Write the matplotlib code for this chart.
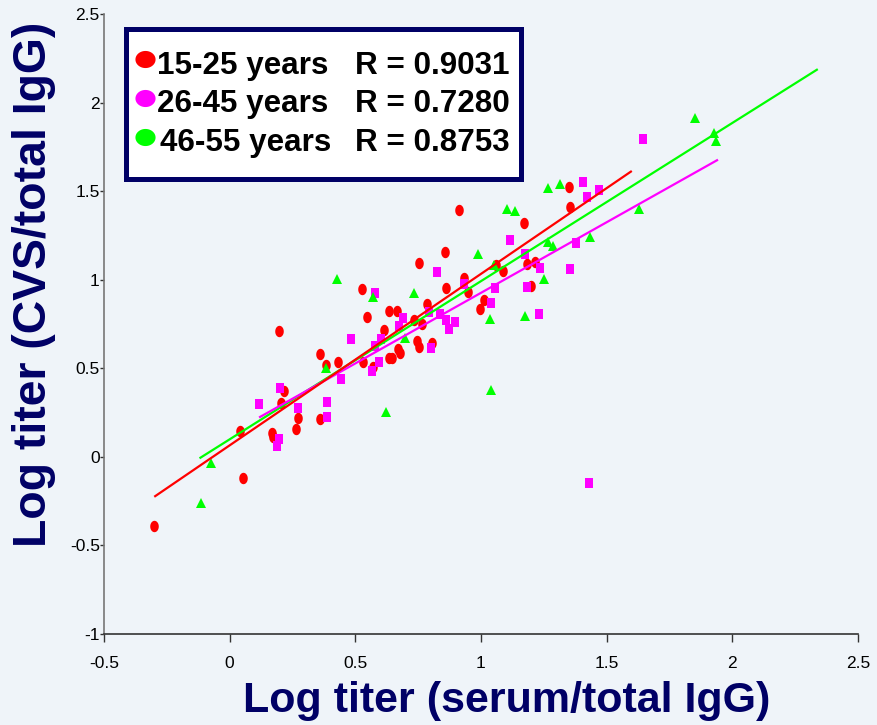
import numpy as np
import matplotlib
matplotlib.use("Agg")
import matplotlib.pyplot as plt
from matplotlib.path import Path
from matplotlib.patches import Rectangle
from matplotlib.lines import Line2D

plt.rcParams['font.family'] = ['Liberation Sans', 'DejaVu Sans']

# ---------------- data ----------------
groups = ["15-25 years", "26-45 years", "46-55 years"]
r_values = ["R = 0.9031", "R = 0.7280", "R = 0.8753"]

red_x = [-0.301, 0.053, 0.041, 0.168, 0.172, 0.196, 0.359, 0.383, 0.216, 0.204,
         0.272, 0.264, 0.359, 0.431, 0.527, 0.546, 0.634, 0.666, 0.614, 0.531,
         0.634, 0.646, 0.670, 0.678, 0.745, 0.753, 0.805, 0.785, 0.733, 0.765,
         0.753, 0.861, 0.932, 0.948, 0.996, 1.012, 0.570, 0.912, 0.857, 1.171,
         1.060, 1.088, 1.183, 1.215, 1.199, 1.350, 1.354]
red_y = [-0.390, -0.119, 0.146, 0.135, 0.112, 0.711, 0.581, 0.519, 0.372, 0.304,
         0.220, 0.158, 0.214, 0.536, 0.948, 0.790, 0.824, 0.824, 0.716, 0.536,
         0.558, 0.558, 0.609, 0.587, 0.654, 0.620, 0.643, 0.863, 0.773, 0.750,
         1.095, 0.953, 1.010, 0.931, 0.835, 0.886, 0.508, 1.394, 1.157, 1.320,
         1.083, 1.049, 1.089, 1.100, 0.965, 1.524, 1.411]

mag_x = [0.200, 0.117, 0.272, 0.196, 0.188, 0.387, 0.387, 0.825, 0.932, 0.578,
         0.690, 0.674, 0.602, 0.578, 0.483, 0.594, 0.566, 0.443, 0.801, 0.837,
         0.861, 0.897, 0.873, 0.793, 1.422, 1.470, 1.406, 1.115, 1.175, 1.235,
         1.354, 1.378, 1.056, 1.040, 1.183, 1.231, 1.645, 1.430]
mag_y = [0.389, 0.299, 0.276, 0.101, 0.062, 0.310, 0.225, 1.044, 0.976, 0.925,
         0.784, 0.739, 0.666, 0.626, 0.666, 0.536, 0.485, 0.440, 0.615, 0.807,
         0.773, 0.762, 0.722, 0.818, 1.467, 1.507, 1.552, 1.224, 1.145, 1.066,
         1.061, 1.208, 0.953, 0.869, 0.959, 0.807, 1.795, -0.147]

grn_x = [-0.074, -0.114, 0.383, 0.427, 0.570, 0.733, 0.698, 0.622, 1.103, 1.135,
         0.988, 1.052, 1.267, 1.286, 1.251, 1.434, 1.036, 1.175, 1.267, 1.314,
         1.851, 1.927, 1.935, 1.629, 1.040]
grn_y = [-0.034, -0.260, 0.502, 1.004, 0.903, 0.925, 0.671, 0.253, 1.399, 1.388,
         1.145, 1.083, 1.213, 1.190, 1.004, 1.241, 0.778, 0.795, 1.518, 1.541,
         1.913, 1.829, 1.783, 1.399, 0.378]

# regression lines: (x start, x end, slope, intercept)
red_fit = [-0.30, 1.60, 0.968, 0.065]
mag_fit = [0.117, 1.943, 0.797, 0.129]
grn_fit = [-0.12, 2.34, 0.893, 0.099]

x_ticks = [-0.5, 0, 0.5, 1, 1.5, 2, 2.5]
y_ticks = [-1, -0.5, 0, 0.5, 1, 1.5, 2, 2.5]
x_tick_labels = ["-0.5", "0", "0.5", "1", "1.5", "2", "2.5"]
y_tick_labels = ["-1", "-0.5", "0", "0.5", "1", "1.5", "2", "2.5"]

# ---------------- style ----------------
W, H = 878, 725
BG = '#EFF4F9'
NAVY = '#000066'
RED, MAG, GRN = '#FF0000', '#FF00FF', '#00FF00'

def ellipse(wx, hy):
    t = np.linspace(0, 2 * np.pi, 60)
    verts = np.column_stack([wx * np.cos(t), hy * np.sin(t)])
    return Path(verts, closed=True)

def rect(wx, hy):
    verts = [(-wx, -hy), (wx, -hy), (wx, hy), (-wx, hy), (-wx, -hy)]
    return Path(verts, closed=True)

red_marker = ellipse(0.75, 1.0)
sq_marker = rect(0.8, 1.0)
leg_marker = ellipse(1.0, 0.85)

fig = plt.figure(figsize=(W / 100, H / 100), dpi=100, facecolor=BG)
ax = fig.add_axes([104 / W, 1 - 634 / H, (858 - 104) / W, (634 - 14) / H])
ax.set_facecolor(BG)

ax.plot(red_x, red_y, linestyle='none', marker=red_marker, markersize=8.2,
        color=RED, markeredgewidth=0)
ax.plot(mag_x, mag_y, linestyle='none', marker=sq_marker, markersize=7.6,
        color=MAG, markeredgewidth=0)
ax.plot(grn_x, grn_y, linestyle='none', marker='^', markersize=7.2,
        color=GRN, markeredgewidth=0)

for fit, c in [(grn_fit, GRN), (mag_fit, MAG), (red_fit, RED)]:
    xs = np.array([fit[0], fit[1]])
    ax.plot(xs, fit[2] * xs + fit[3], color=c, linewidth=1.6, solid_capstyle='butt')

ax.set_xlim(-0.5, 2.5)
ax.set_ylim(-1, 2.5)
ax.set_xticks(x_ticks)
ax.set_xticklabels(x_tick_labels)
ax.set_yticks(y_ticks)
ax.set_yticklabels(y_tick_labels)
ax.tick_params(axis='x', direction='out', length=6, width=1, color='#333333',
               labelsize=12.5, pad=10)
ax.tick_params(axis='y', direction='out', length=3, width=1, color='#333333',
               labelsize=12.5, pad=0)
for s in ['top', 'right']:
    ax.spines[s].set_visible(False)
ax.spines['left'].set_color('#777777')
ax.spines['bottom'].set_color('#333333')
ax.spines['left'].set_linewidth(1.2)
ax.spines['bottom'].set_linewidth(1.2)

def fx(px):
    return px / W

def fy(py):
    return 1 - py / H

fig.text(fx(507), fy(712), "Log titer (serum/total IgG)", color=NAVY,
         fontsize=31, fontweight='bold', ha='center', va='baseline')
fig.text(fx(46), fy(284), "Log titer (CVS/total IgG)", color=NAVY,
         fontsize=33.4, fontweight='bold', ha='center', va='baseline',
         rotation=90, rotation_mode='anchor')

# legend box
fig.add_artist(Rectangle((fx(126.5), fy(178.5)), (521.5 - 126.5) / W, (178.5 - 28.5) / H,
                         transform=fig.transFigure, facecolor='white',
                         edgecolor=NAVY, linewidth=3.6, zorder=5))
rows_y = [74, 112, 151]
mk_y = [59, 98, 137]
cols = [RED, MAG, GRN]
txt_x = [157, 157, 160]
for i in range(3):
    fig.add_artist(Line2D([fx(145)], [fy(mk_y[i])], transform=fig.transFigure,
                          linestyle='none', marker=leg_marker, markersize=14.5,
                          color=cols[i], markeredgewidth=0, zorder=6))
    fig.text(fx(txt_x[i]), fy(rows_y[i]), groups[i], fontsize=22.6, fontweight='bold',
             color='black', ha='left', va='baseline', zorder=6)
    fig.text(fx(355.5), fy(rows_y[i]), r_values[i], fontsize=22.6, fontweight='bold',
             color='black', ha='left', va='baseline', zorder=6)

fig.savefig("out.png", dpi=100, facecolor=BG)
